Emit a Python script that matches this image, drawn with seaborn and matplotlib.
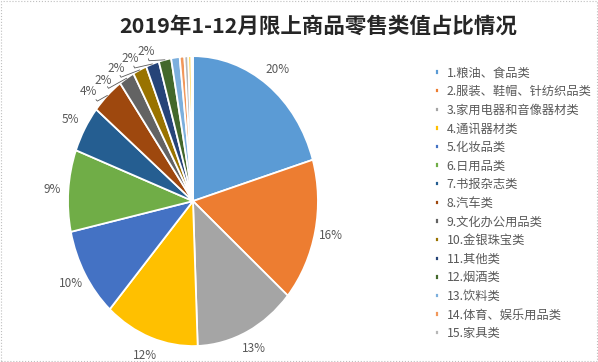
import matplotlib
matplotlib.use("Agg")
import matplotlib.pyplot as plt
import seaborn as sns
import numpy as np

title = "2019年1-12月限上商品零售类值占比情况"
categories = ["1.粮油、食品类", "2.服装、鞋帽、针纺织品类", "3.家用电器和音像器材类",
              "4.通讯器材类", "5.化妆品类", "6.日用品类", "7.书报杂志类", "8.汽车类",
              "9.文化办公用品类", "10.金银珠宝类", "11.其他类", "12.烟酒类",
              "13.饮料类", "14.体育、娱乐用品类", "15.家具类"]
values = [20.4, 15.9, 13.1, 12.2, 10.0, 9.1, 5.2, 4.2, 2.0, 1.8, 1.7, 1.6, 1.1, 0.6, 0.5]
extra_values = [0.4, 0.2]   # unlabeled slivers at the end of the pie
shown_labels = 12           # only the first 12 slices carry a percentage label

colors = ["#5B9BD5", "#ED7D31", "#A5A5A5", "#FFC000", "#4472C4", "#70AD47",
          "#255E91", "#9E480E", "#636363", "#997300", "#264478", "#43682B",
          "#7CAFDD", "#F1975A", "#B7B7B7", "#FFCD33", "#698ED0"]

sns.set_theme(style="white")
plt.rcParams['font.family'] = ['Noto Sans CJK SC', 'DejaVu Sans']

fig = plt.figure(figsize=(5.98, 3.62), dpi=100)
fig.patch.set_facecolor("white")

all_vals = values + extra_values
total = sum(all_vals)
ax = fig.add_axes([0.1137, 0.044, 0.418, 0.801])

wedges, texts = ax.pie(all_vals, colors=colors[:len(all_vals)], startangle=90,
                       counterclock=False,
                       wedgeprops=dict(edgecolor="white", linewidth=1.3))
ax.set_aspect("auto")
ax.set_xlim(-1, 1)
ax.set_ylim(-1, 1)

# label angles (degrees, matplotlib convention), spread small ones apart
mids = [(w.theta1 + w.theta2) / 2 for w in wedges]
lab_ang = list(mids[:shown_labels])
gap = 7.0
lab_ang[shown_labels - 1] = mids[shown_labels - 1] + 7
for i in range(shown_labels - 2, -1, -1):
    lab_ang[i] = max(mids[i], lab_ang[i + 1] + gap) if i >= 7 else mids[i]

for i in range(shown_labels):
    pct = round(all_vals[i] / total * 100)
    a = np.deg2rad(lab_ang[i])
    r = 1.13 if all_vals[i] >= 3 else 1.1
    x, y = r * np.cos(a), r * np.sin(a)
    ax.text(x, y, f"{pct:.0f}%", ha="center", va="center", color="#595959", fontsize=8.5)
    if abs(lab_ang[i] - mids[i]) > 1.5:
        m = np.deg2rad(mids[i])
        a2 = np.deg2rad(lab_ang[i])
        ax.plot([1.0 * np.cos(m), 1.03 * np.cos(a2), 1.045 * np.cos(a2)],
                [1.0 * np.sin(m), 1.03 * np.sin(a2), 1.045 * np.sin(a2)],
                color="#595959", linewidth=0.6, clip_on=False)

fig.text(0.532, 0.927, title, ha="center", va="center", fontsize=15.5,
         fontweight="bold", color="#262626")

handles = wedges[:len(categories)]
leg = fig.legend(handles, categories, loc="upper left", bbox_to_anchor=(0.72, 0.830),
                 frameon=False, fontsize=8.8, labelcolor="#595959",
                 handlelength=0.3, handleheight=0.3, handletextpad=0.6,
                 labelspacing=0.46, borderaxespad=0)

fig.patches.append(plt.Rectangle((0.002, 0.003), 0.996, 0.994, transform=fig.transFigure,
                                 fill=False, edgecolor="#BFBFBF", linewidth=0.8, linestyle=":"))

fig.savefig("out.png", dpi=100)
